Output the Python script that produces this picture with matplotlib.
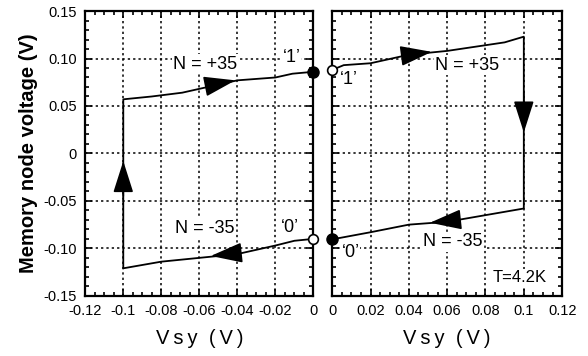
import matplotlib.pyplot as plt
from matplotlib.ticker import MultipleLocator, FixedLocator, FixedFormatter

plt.rcParams['font.family'] = ['Liberation Sans', 'DejaVu Sans']

# Left panel (negative Vsy): loop starting at '0', going left, up, then right to '1'
left_x = [0, -0.01, -0.02, -0.04, -0.06, -0.08, -0.1, -0.1, -0.085, -0.069, -0.04, -0.02, -0.011, 0]
left_y = [-0.090, -0.092, -0.097, -0.106, -0.110, -0.114, -0.121, 0.057, 0.060, 0.064, 0.077, 0.080, 0.084, 0.086]

# Right panel (positive Vsy): loop starting at '1', going right, down, then left to '0'
right_x = [0, 0.006, 0.02, 0.04, 0.06, 0.09, 0.1, 0.1, 0.08, 0.06, 0.04, 0.02, 0.004, 0]
right_y = [0.088, 0.093, 0.095, 0.104, 0.108, 0.117, 0.123, -0.058, -0.065, -0.072, -0.075, -0.083, -0.089, -0.090]

# arrow heads: (base, tip)
left_arrows = [((-0.1, -0.045), (-0.1, -0.008)),
               ((-0.056, 0.071), (-0.041, 0.077)),
               ((-0.040, -0.105), (-0.054, -0.108))]
right_arrows = [((0.037, 0.103), (0.052, 0.107)),
                ((0.1, 0.065), (0.1, 0.022)),
                ((0.065, -0.070), (0.051, -0.073))]

xticks_left = [-0.12, -0.1, -0.08, -0.06, -0.04, -0.02, 0]
xlabels_left = ['-0.12', '-0.1', '-0.08', '-0.06', '-0.04', '-0.02', '0']
xticks_right = [0, 0.02, 0.04, 0.06, 0.08, 0.1, 0.12]
xlabels_right = ['0', '0.02', '0.04', '0.06', '0.08', '0.1', '0.12']
yticks = [-0.15, -0.10, -0.05, 0, 0.05, 0.10, 0.15]
ylabels = ['-0.15', '-0.10', '-0.05', '0', '0.05', '0.10', '0.15']

fig = plt.figure(figsize=(5.88, 3.56), dpi=100)
ax1 = fig.add_axes([0.145, 0.169, 0.388, 0.80])
ax2 = fig.add_axes([0.565, 0.169, 0.391, 0.80])


def style_axes(ax, xticks, xlabels, show_y):
    ax.set_ylim(-0.15, 0.15)
    ax.xaxis.set_major_locator(FixedLocator(xticks))
    ax.xaxis.set_major_formatter(FixedFormatter(xlabels))
    ax.xaxis.set_minor_locator(MultipleLocator(0.005))
    ax.yaxis.set_major_locator(FixedLocator(yticks))
    ax.yaxis.set_major_formatter(FixedFormatter(ylabels))
    ax.yaxis.set_minor_locator(MultipleLocator(0.01))
    ax.tick_params(which='both', direction='in', top=True, right=True, width=1.2,
                   labelsize=10.5, pad=6)
    ax.tick_params(which='major', length=5)
    ax.tick_params(which='minor', length=3)
    if not show_y:
        ax.tick_params(axis='y', labelleft=False)
    ax.grid(which='major', linestyle=(0, (1.5, 2)), color='k', linewidth=1.1)
    for s in ax.spines.values():
        s.set_linewidth(1.6)
    ax.set_xlabel('V\u2009s\u2009y  (\u2009V\u2009)', fontsize=14.5, labelpad=8)


def draw_arrows(ax, arrows):
    for base, tip in arrows:
        ax.annotate('', xy=tip, xytext=base,
                    arrowprops=dict(arrowstyle='-|>,head_length=1.1,head_width=0.35',
                                    color='k', lw=1.2, shrinkA=0, shrinkB=0,
                                    mutation_scale=18))


ax1.set_xlim(-0.12, 0)
ax1.plot(left_x, left_y, color='k', lw=1.3)
ax1.plot(left_x[-1], left_y[-1], 'o', ms=8, mfc='k', mec='k', clip_on=False, zorder=5)
ax1.plot(left_x[0], left_y[0], 'o', ms=7, mfc='white', mec='k', mew=1.2, clip_on=False, zorder=5)
draw_arrows(ax1, left_arrows)
style_axes(ax1, xticks_left, xlabels_left, True)
ax1.set_ylabel('Memory node voltage (V)', fontsize=14.5, fontweight='bold', labelpad=4)
ax1.text(-0.057, 0.094, 'N = +35', fontsize=13, ha='center', va='center',
         bbox=dict(facecolor='white', edgecolor='none', pad=1))
ax1.text(-0.057, -0.079, 'N = -35', fontsize=13, ha='center', va='center',
         bbox=dict(facecolor='white', edgecolor='none', pad=1))
ax1.text(-0.0115, 0.101, '\u20181\u2019', fontsize=13, ha='center', va='center',
         bbox=dict(facecolor='white', edgecolor='none', pad=0.5))
ax1.text(-0.0125, -0.078, '\u20180\u2019', fontsize=13, ha='center', va='center',
         bbox=dict(facecolor='white', edgecolor='none', pad=0.5))

ax2.set_xlim(0, 0.12)
ax2.plot(right_x, right_y, color='k', lw=1.3)
ax2.plot(right_x[0], right_y[0], 'o', ms=7, mfc='white', mec='k', mew=1.2, clip_on=False, zorder=5)
ax2.plot(right_x[-1], right_y[-1], 'o', ms=8, mfc='k', mec='k', clip_on=False, zorder=5)
draw_arrows(ax2, right_arrows)
style_axes(ax2, xticks_right, xlabels_right, False)
ax2.text(0.0705, 0.093, 'N = +35', fontsize=13, ha='center', va='center',
         bbox=dict(facecolor='white', edgecolor='none', pad=1))
ax2.text(0.063, -0.093, 'N = -35', fontsize=13, ha='center', va='center',
         bbox=dict(facecolor='white', edgecolor='none', pad=1))
ax2.text(0.0085, 0.078, '\u20181\u2019', fontsize=13, ha='center', va='center')
ax2.text(0.0095, -0.104, '\u20180\u2019', fontsize=13, ha='center', va='center',
         bbox=dict(facecolor='white', edgecolor='none', pad=0.5))
ax2.text(0.112, -0.131, 'T=4.2K', fontsize=12, ha='right', va='center',
         bbox=dict(facecolor='white', edgecolor='none', pad=1))

fig.savefig('out.png', dpi=100)
